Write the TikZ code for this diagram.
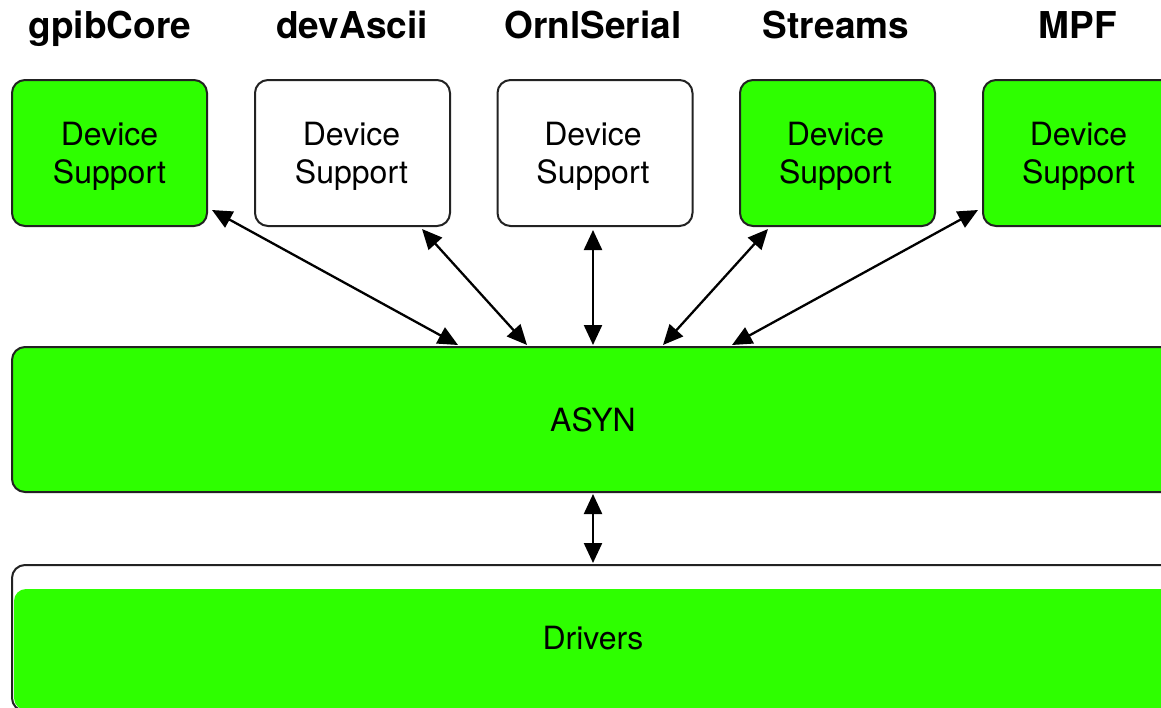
\documentclass[tikz,border=0pt]{standalone}
\usepackage{fontspec}
\setmainfont{TeX Gyre Heros}
\usetikzlibrary{arrows.meta,calc}
\definecolor{layergreen}{RGB}{46,255,0}
\definecolor{edge}{RGB}{34,34,34}
\tikzset{
  devbox/.style={draw=edge, line width=2pt, rounded corners=13pt,
    minimum width=195pt, minimum height=146pt, inner sep=0pt},
  greenbox/.style={devbox, fill=layergreen},
  whitebox/.style={devbox, fill=white},
  devtext/.style={align=center, font=\fontsize{32}{38}\selectfont},
  title/.style={font=\fontsize{37}{40}\selectfont\bfseries, anchor=base},
  biarrow/.style={line width=2.3pt, {Triangle[length=20pt,width=18pt]}-{Triangle[length=20pt,width=18pt]}},
  layertext/.style={font=\fontsize{32}{38}\selectfont}
}
\begin{document}
\begin{tikzpicture}[x=1pt,y=-1pt]
\useasboundingbox (0,0) rectangle (1161,707);
\clip (0,0) rectangle (1161,707);

% module names
\node[title] (t1) at (110,38) {gpibCore};
\node[title] (t2) at (352,38) {devAscii};
\node[title] (t3) at (593,38) {OrnlSerial};
\node[title] (t4) at (836,38) {Streams};
\node[title] (t5) at (1078,38) {MPF};

% device support boxes
\node[greenbox] (b1) at (109.5,153) {};
\node[whitebox] (b2) at (352.5,153) {};
\node[whitebox] (b3) at (595,153) {};
\node[greenbox] (b4) at (837.5,153) {};
\node[greenbox] (b5) at (1080.5,153) {};
\foreach \b/\dx in {b1/0,b2/-1,b3/-2,b4/-2,b5/-2}
  \node[devtext] (\b txt) at ($(\b.center)+(\dx,3.5)$) {Device\\Support};

% ASYN layer
\node[draw=edge, fill=layergreen, line width=2pt, rounded corners=13pt,
  minimum width=1168pt, minimum height=145pt, inner sep=0pt] (asyn) at (596,419.5) {};
\node[layertext] (asyntxt) at (593,420) {ASYN};

% drivers layer
\node[draw=edge, fill=white, line width=2pt, rounded corners=13pt,
  minimum width=1168pt, minimum height=146pt, inner sep=0pt] (drv) at (596,638) {};
\fill[layergreen, rounded corners=12pt] (14,589) rectangle (1185,710);
\node[layertext] (drvtxt) at (593,638) {Drivers};

% connector end points
\coordinate (e1) at ($(b1.south east)+(4,-17)$);
\coordinate (e2) at (422,229);
\coordinate (e3) at (593,230);
\coordinate (e4) at (768,229);
\coordinate (e5) at ($(b5.south west)+(-4,-17)$);
\coordinate (s1) at (458,345);
\coordinate (s2) at (527,345);
\coordinate (s3) at (593,345);
\coordinate (s4) at (663,345);
\coordinate (s5) at (732,345);
\coordinate (d1) at (593,494);
\coordinate (d2) at (593,563);

\draw[biarrow] (e1) -- (s1);
\draw[biarrow] (e2) -- (s2);
\draw[biarrow] (e3) -- (s3);
\draw[biarrow] (e4) -- (s4);
\draw[biarrow] (e5) -- (s5);
\draw[biarrow] (d1) -- (d2);
\end{tikzpicture}
\end{document}
